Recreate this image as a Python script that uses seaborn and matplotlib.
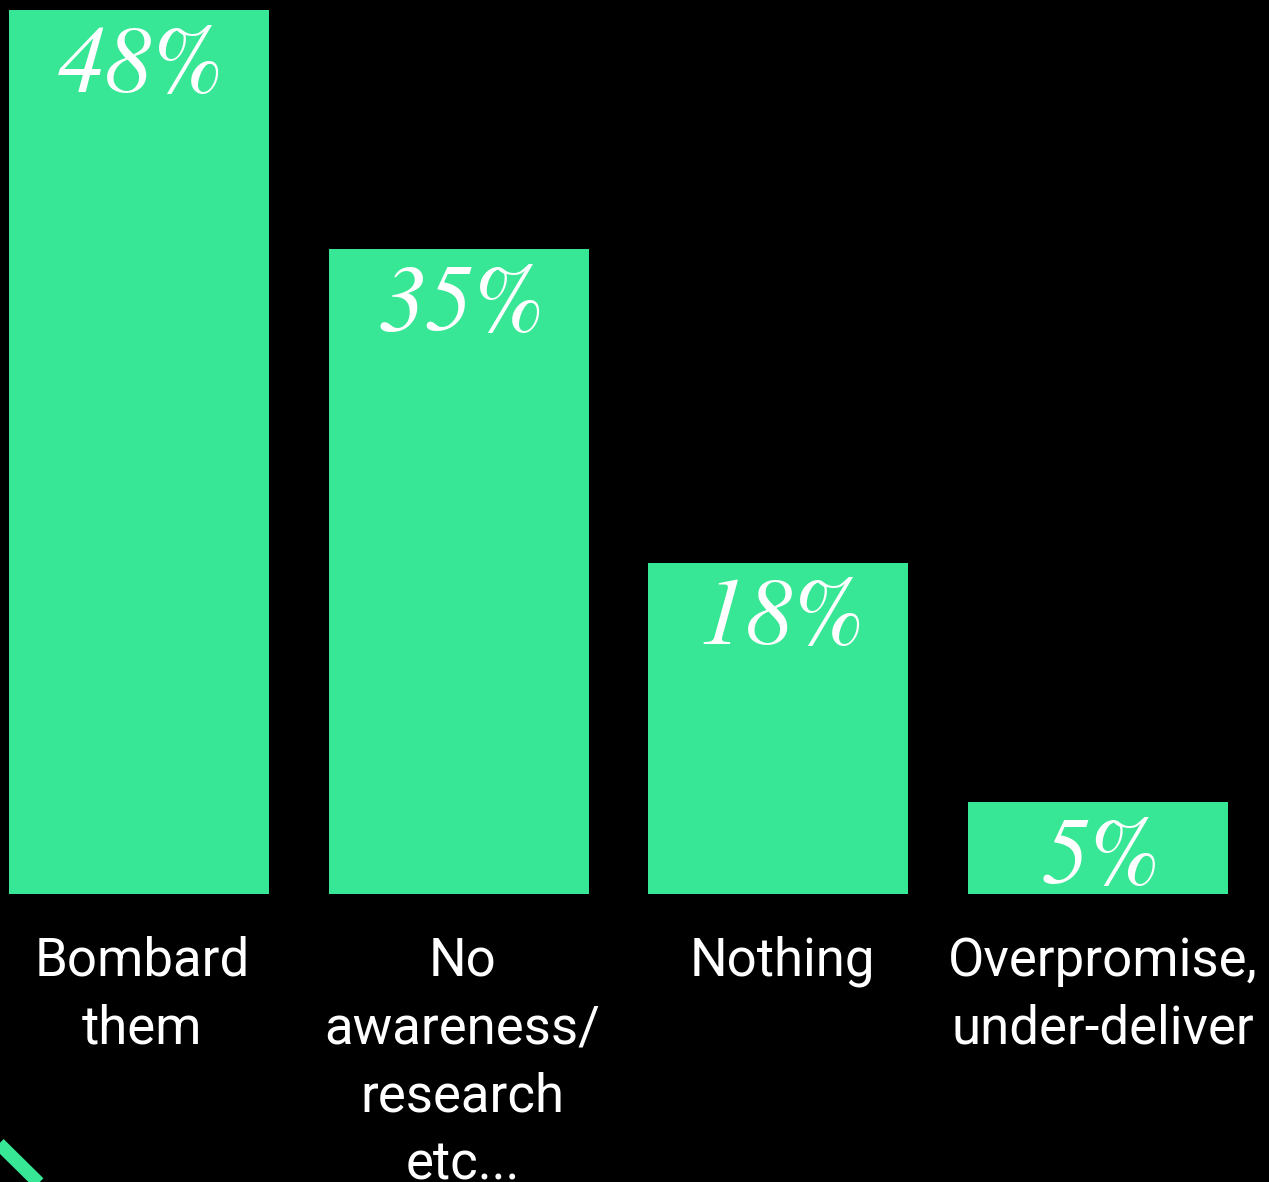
import matplotlib
matplotlib.use("Agg")
import matplotlib.pyplot as plt
from matplotlib.lines import Line2D
from matplotlib.transforms import ScaledTranslation
import seaborn as sns
import pandas as pd

categories = ["Bombard\nthem", "No\nawareness/\nresearch\netc...", "Nothing", "Overpromise,\nunder-deliver"]
values = [48, 35, 18, 5]
value_labels = ["48%", "35%", "18%", "5%"]

GREEN = "#38E795"
W, H = 1269, 1182
DPI = 100

sns.set_theme(style="white")
plt.rcParams["font.family"] = ["Roboto", "DejaVu Sans"]

fig = plt.figure(figsize=(W / DPI, H / DPI), dpi=DPI, facecolor="black")
base_px = 894
ax = fig.add_axes([0, (H - base_px) / H, 1, base_px / H])
ax.set_facecolor("black")

df = pd.DataFrame({"cat": categories, "val": values})
sns.barplot(data=df, x="cat", y="val", color=GREEN, saturation=1, width=260 / 320,
            linewidth=0, edgecolor=GREEN, ax=ax)

unit_px = 884 / 48
ax.set_ylim(0, base_px / unit_px)
xmin = -138.5 / 320
ax.set_xlim(xmin, xmin + W / 320)

for s in ax.spines.values():
    s.set_visible(False)
ax.set_yticks([])
ax.set_xlabel("")
ax.set_ylabel("")
ax.set_xticks(range(len(categories)))
ax.set_xticklabels(categories, fontsize=38, color="white", linespacing=1.42)
ax.tick_params(axis="x", length=0, pad=30)
shift = ScaledTranslation(4 / DPI, 0, fig.dpi_scale_trans)
for t in ax.get_xticklabels():
    t.set_transform(t.get_transform() + shift)

for i, (v, lab) in enumerate(zip(values, value_labels)):
    ax.annotate(lab, xy=(i, v), xytext=(2, -12), textcoords="offset points",
                ha="center", va="top", color="white", fontsize=68,
                fontfamily="STIXGeneral", fontstyle="italic")

# decorative diagonal stripe in bottom-left corner
fig.add_artist(Line2D([-20 / W, 52 / W], [1 - 1125 / H, 1 - 1196 / H],
                      transform=fig.transFigure, color=GREEN, linewidth=9.5,
                      solid_capstyle="butt"))

fig.savefig("out.png", dpi=DPI, facecolor="black")
